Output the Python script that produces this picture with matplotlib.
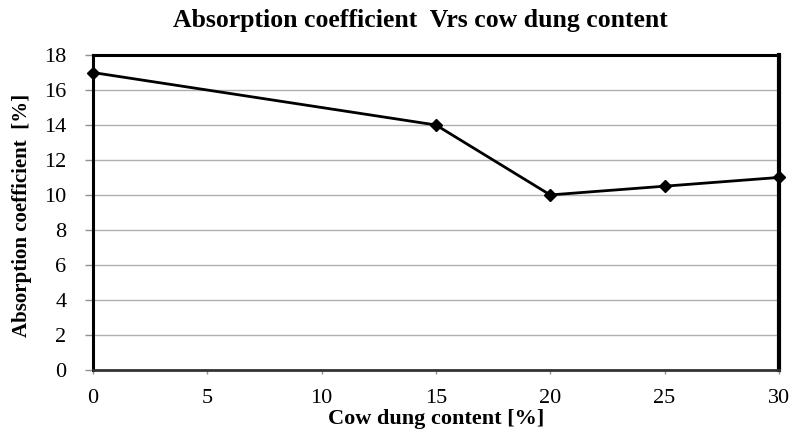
import matplotlib.pyplot as plt

# data
cow_dung = [0, 15, 20, 25, 30]
absorption = [17, 14, 10, 10.5, 11]
x_ticks = [0, 5, 10, 15, 20, 25, 30]
y_ticks = [0, 2, 4, 6, 8, 10, 12, 14, 16, 18]

plt.rcParams['font.family'] = ['Liberation Serif', 'DejaVu Serif']

fig = plt.figure(figsize=(7.94, 4.30), dpi=100)
ax = fig.add_axes([0.117, 0.140, 0.864, 0.732])

ax.plot(cow_dung, absorption, color='black', linewidth=2, marker='D',
        markersize=6, clip_on=False, zorder=3)

ax.set_xlim(0, 30)
ax.set_ylim(0, 18)
ax.set_xticks(x_ticks)
ax.set_yticks(y_ticks)
ax.grid(axis='y', color='#b0b0b0', linewidth=1)
ax.set_axisbelow(True)
ax.tick_params(axis='both', labelsize=16, color='#909090', width=1)
ax.tick_params(axis='y', length=6, pad=13)
ax.tick_params(axis='x', length=3, pad=11)

for side in ['top', 'left', 'right']:
    ax.spines[side].set_linewidth(2.2)
    ax.spines[side].set_color('black')
ax.spines['right'].set_linewidth(3)
ax.spines['bottom'].set_linewidth(2)
ax.spines['bottom'].set_color('#333333')

ax.set_xlabel('Cow dung content [%]', fontsize=16, fontweight='bold')
ax.xaxis.set_label_coords(0.5, -0.125, transform=ax.transAxes)
ax.xaxis.label.set_va('top')
ax.set_ylabel('Absorption coefficient  [%]', fontsize=15, fontweight='bold')
ax.yaxis.set_label_coords(22 / 794, 0.5, transform=fig.transFigure)
ax.yaxis.label.set_va('center')
fig.text(0.53, 0.953, 'Absorption coefficient  Vrs cow dung content',
         ha='center', va='center', fontsize=18.5, fontweight='bold')

fig.savefig('out.png', dpi=100)
